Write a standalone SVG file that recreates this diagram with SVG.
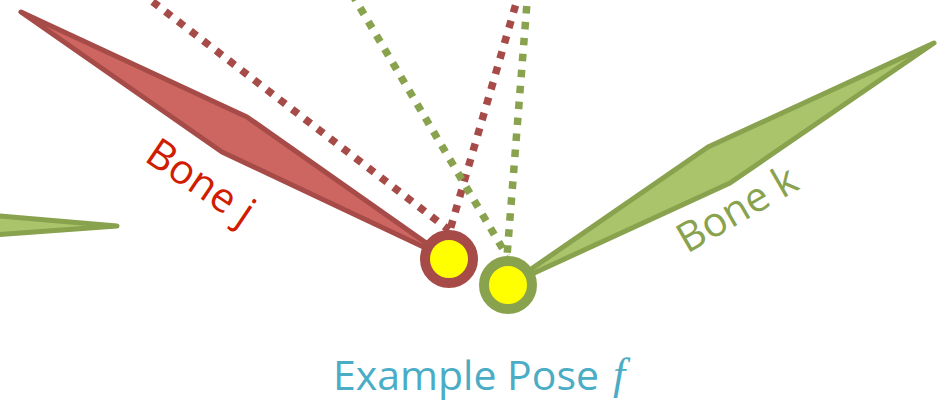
<svg xmlns="http://www.w3.org/2000/svg" width="943" height="401" viewBox="0 0 943 401">
  <style>
    .bone-r { fill: #CD6661; stroke: #A64B47; stroke-width: 5; stroke-linejoin: round; }
    .bone-g { fill: #A9C46A; stroke: #89A24E; stroke-width: 5; stroke-linejoin: round; }
    .dot-r { fill: none; stroke: #A64B47; stroke-width: 7.5; stroke-dasharray: 7.5 8.5; }
    .dot-g { fill: none; stroke: #89A24E; stroke-width: 7.5; stroke-dasharray: 7.5 8.5; }
    .joint-r { fill: #FFFF00; stroke: #A64B47; stroke-width: 10; }
    .joint-g { fill: #FFFF00; stroke: #89A24E; stroke-width: 10; }
    .lbl { font-family: "Open Sans", "Liberation Sans", sans-serif; font-size: 41px; }
  </style>
  <rect width="943" height="401" fill="#FFFFFF"/>
  <g id="connectors">
    <line class="dot-r" x1="140" y1="-8" x2="449" y2="230"/>
    <line class="dot-r" x1="520" y1="-10" x2="450" y2="230"/>
    <line class="dot-g" x1="352" y1="-6" x2="507" y2="256"/>
    <line class="dot-g" x1="528" y1="-10" x2="507" y2="256"/>
  </g>
  <g id="bone-left">
    <polygon class="bone-g" points="-30,213.4 117,226 -30,236.7"/>
  </g>
  <g id="bone-j">
    <polygon class="bone-r" points="21,12 247,117 449,259 222,152"/>
    <text class="lbl" fill="#D01C00" transform="translate(143,160) rotate(34)">Bone j</text>
  </g>
  <g id="bone-k">
    <polygon class="bone-g" points="934,43 708,147 508,285 730,183"/>
    <text class="lbl" fill="#89A24E" transform="translate(687,254) rotate(-30)">Bone k</text>
  </g>
  <g id="joint-j">
    <circle class="joint-r" cx="449" cy="259" r="24"/>
  </g>
  <g id="joint-k">
    <circle class="joint-g" cx="508" cy="285" r="24"/>
  </g>
  <g id="caption">
    <text x="333" y="390" class="lbl" fill="#4BACC6">Example Pose</text>
    <text x="613" y="389" font-family="'Liberation Serif', serif" font-style="italic" font-size="44px" fill="#4BACC6">f</text>
  </g>
</svg>
